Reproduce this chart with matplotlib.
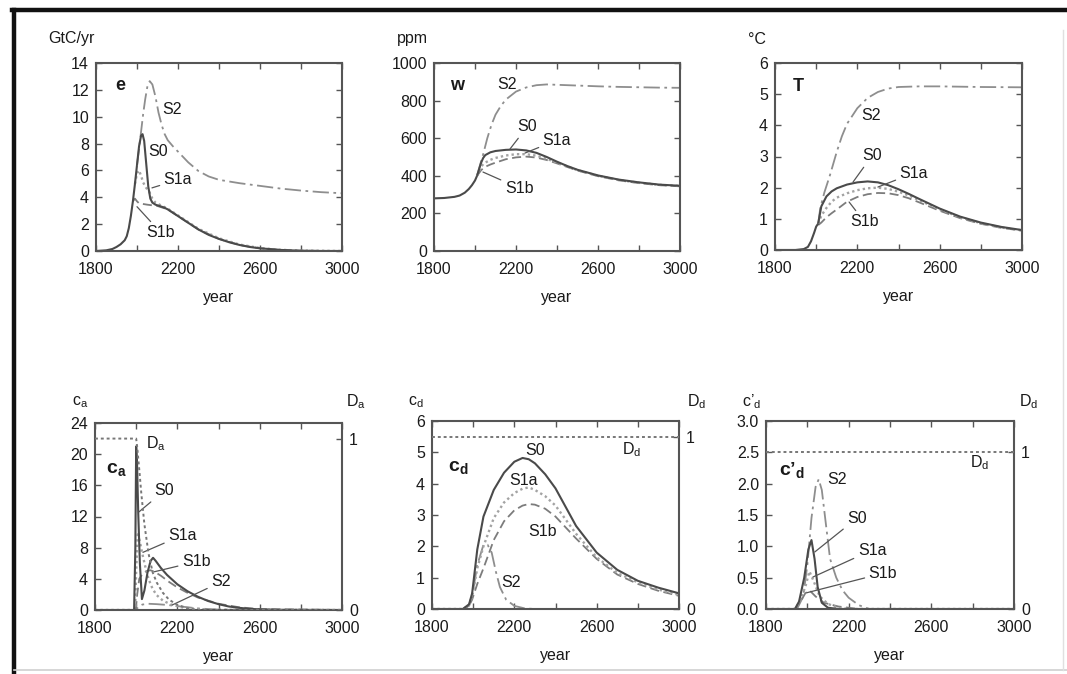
import matplotlib.pyplot as plt
from matplotlib.lines import Line2D

plt.rcParams['font.family'] = ['Liberation Sans', 'DejaVu Sans']
plt.rcParams['mathtext.fontset'] = 'custom'
plt.rcParams['mathtext.rm'] = 'Liberation Sans'
plt.rcParams['mathtext.it'] = 'Liberation Sans'
plt.rcParams['mathtext.bf'] = 'Liberation Sans:bold'

W, H = 1067, 674

# ---- panel e: emissions (GtC/yr)
e_hist_yr = [1800, 1850, 1880, 1900, 1920, 1940, 1950, 1960, 1970, 1980, 1990, 2000]
e_hist = [0, 0.05, 0.15, 0.3, 0.5, 0.8, 1.1, 1.7, 2.6, 3.7, 5.0, 6.4]
e_s0_yr = [2000, 2010, 2020, 2027, 2035, 2045, 2055, 2065, 2075, 2090, 2110, 2130, 2150, 2175, 2200,
           2250, 2300, 2350, 2400, 2450, 2500, 2550, 2600, 2700, 2800, 2900, 3000]
e_s0 = [6.4, 7.8, 8.6, 8.7, 8.2, 6.5, 4.8, 3.9, 3.6, 3.45, 3.35, 3.25, 3.1, 2.85, 2.6,
        2.1, 1.6, 1.2, 0.9, 0.65, 0.45, 0.3, 0.2, 0.08, 0.02, 0, 0]
e_s1a_yr = [1990, 2000, 2010, 2020, 2030, 2045, 2060, 2075, 2090, 2110, 2150, 2200, 2250, 2300,
            2400, 2500, 2600, 2700, 2800, 3000]
e_s1a = [5.0, 5.8, 6.0, 5.6, 5.1, 4.7, 4.4, 3.9, 3.6, 3.45, 3.15, 2.65, 2.15, 1.65,
         0.95, 0.48, 0.22, 0.09, 0.03, 0]
e_s1b_yr = [1980, 1990, 2000, 2010, 2030, 2050, 2075, 2100, 2150, 2200, 2250, 2300, 2400, 2500,
            2600, 2700, 2800, 3000]
e_s1b = [3.7, 3.9, 3.7, 3.55, 3.5, 3.45, 3.4, 3.35, 3.1, 2.6, 2.1, 1.6, 0.9, 0.45,
         0.2, 0.08, 0.02, 0]
e_s2_yr = [2000, 2010, 2020, 2030, 2040, 2050, 2062, 2075, 2090, 2105, 2120, 2135, 2150, 2175, 2200,
           2250, 2300, 2350, 2400, 2500, 2600, 2700, 2800, 2900, 3000]
e_s2 = [6.4, 7.6, 8.9, 10.2, 11.3, 12.2, 12.65, 12.4, 11.5, 10.3, 9.4, 8.7, 8.25, 7.8, 7.4,
        6.6, 5.95, 5.55, 5.3, 5.05, 4.85, 4.65, 4.5, 4.38, 4.3]

# ---- panel w: CO2 (ppm)
w_hist_yr = [1800, 1850, 1900, 1925, 1950, 1970, 1985, 2000, 2010]
w_hist = [280, 282, 288, 295, 310, 330, 350, 375, 400]
w_yr = [2010, 2020, 2030, 2040, 2050, 2075, 2100, 2150, 2200, 2250, 2300, 2350, 2400, 2450, 2500,
        2600, 2700, 2800, 2900, 3000]
w_s0 = [400, 435, 470, 495, 510, 525, 532, 538, 540, 535, 522, 500, 475, 452, 432,
        402, 380, 365, 353, 347]
w_s1a = [400, 425, 448, 462, 470, 485, 495, 508, 515, 515, 507, 490, 470, 450, 430,
         400, 378, 363, 352, 346]
w_s1b = [400, 415, 430, 440, 448, 460, 470, 488, 498, 502, 497, 484, 466, 447, 428,
         398, 376, 361, 350, 344]
w_s2_yr = [2010, 2020, 2040, 2060, 2080, 2100, 2125, 2150, 2200, 2250, 2300, 2350, 2400, 2500,
           2600, 2700, 2800, 2900, 3000]
w_s2 = [400, 440, 515, 600, 670, 725, 770, 805, 848, 870, 882, 886, 884, 880,
        876, 873, 871, 869, 868]

# ---- panel T: temperature (deg C)
t_hist_yr = [1800, 1900, 1940, 1960, 1975, 1990, 2000, 2010]
t_hist = [0, 0, 0.03, 0.1, 0.28, 0.55, 0.75, 0.85]
t_yr = [2010, 2025, 2050, 2075, 2100, 2150, 2200, 2250, 2300, 2350, 2400, 2450, 2500,
        2600, 2700, 2800, 2900, 3000]
t_s0 = [0.85, 1.4, 1.72, 1.88, 1.98, 2.1, 2.17, 2.2, 2.17, 2.08, 1.95, 1.8, 1.64,
        1.33, 1.07, 0.88, 0.74, 0.64]
t_s1a = [0.85, 1.1, 1.35, 1.55, 1.68, 1.82, 1.92, 1.98, 2.0, 1.96, 1.87, 1.75, 1.6,
         1.3, 1.05, 0.86, 0.72, 0.63]
t_s1b = [0.8, 0.88, 1.05, 1.18, 1.3, 1.55, 1.7, 1.79, 1.83, 1.82, 1.76, 1.66, 1.53,
         1.26, 1.02, 0.84, 0.71, 0.62]
t_s2_yr = [2010, 2020, 2040, 2067, 2100, 2125, 2150, 2200, 2250, 2300, 2350, 2400, 2500,
           2600, 2800, 3000]
t_s2 = [0.85, 1.35, 1.85, 2.4, 3.15, 3.65, 4.05, 4.55, 4.88, 5.07, 5.18, 5.23, 5.25,
        5.25, 5.23, 5.22]

# ---- panel ca
ca_s0_yr = [1800, 1990, 1996, 2000, 2004, 2010, 2018, 2028, 2040, 2055, 2070, 2082, 2095, 2120,
            2150, 2200, 2250, 2300, 2350, 2400, 2450, 2500, 2550, 2600, 2700, 3000]
ca_s0 = [0, 0, 8, 21, 19, 12.5, 6, 1.4, 2.5, 4.8, 6.3, 6.7, 6.3, 5.4,
         4.5, 3.3, 2.4, 1.7, 1.15, 0.75, 0.45, 0.28, 0.15, 0.08, 0.02, 0]
ca_s1a_yr = [1800, 1995, 2000, 2008, 2020, 2030, 2045, 2060, 2080, 2100, 2130, 2170, 2220, 2300,
             2400, 3000]
ca_s1a = [0, 0, 5, 10, 8.5, 7.2, 5.5, 4.0, 2.7, 1.9, 1.2, 0.7, 0.35, 0.12, 0.03, 0]
ca_s1b_yr = [1800, 1998, 2005, 2015, 2030, 2050, 2070, 2090, 2120, 2160, 2200, 2250, 2300, 2400,
             2500, 2600, 3000]
ca_s1b = [0, 0, 2, 4, 4.6, 5.0, 5.1, 4.9, 4.4, 3.6, 2.9, 2.2, 1.6, 0.8, 0.35, 0.12, 0]
ca_s2_yr = [1800, 2000, 2010, 2030, 2060, 2100, 2150, 2200, 2250, 2300, 2400, 3000]
ca_s2 = [0, 0, 0.4, 0.7, 0.8, 0.75, 0.65, 0.5, 0.35, 0.2, 0.05, 0]
da_yr = [1800, 2000, 2005, 2015, 2025, 2040, 2060, 2080, 2100, 2130, 2160, 2200, 2250, 2300, 3000]
da = [1, 1, 0.95, 0.82, 0.68, 0.5, 0.33, 0.22, 0.16, 0.1, 0.06, 0.03, 0.01, 0, 0]

# ---- panel cd
cd_yr = [1800, 1950, 1980, 1995, 2020, 2050, 2100, 2150, 2200, 2240, 2270, 2300, 2350, 2400, 2500,
         2600, 2700, 2800, 2900, 3000]
cd_s0 = [0, 0, 0.15, 0.5, 1.9, 2.95, 3.8, 4.35, 4.7, 4.82, 4.78, 4.65, 4.3, 3.85, 2.65,
         1.8, 1.25, 0.9, 0.68, 0.5]
cd_s1a = [0, 0, 0.12, 0.4, 1.3, 2.0, 2.9, 3.4, 3.7, 3.84, 3.88, 3.8, 3.6, 3.3, 2.4,
          1.65, 1.15, 0.85, 0.62, 0.45]
cd_s1b = [0, 0, 0.1, 0.3, 0.8, 1.3, 2.2, 2.8, 3.15, 3.3, 3.35, 3.33, 3.2, 2.95, 2.25,
          1.6, 1.1, 0.8, 0.58, 0.42]
cd_s2_yr = [1800, 1950, 1980, 2000, 2020, 2050, 2070, 2090, 2110, 2130, 2160, 2200, 2250, 2300, 3000]
cd_s2 = [0, 0, 0.1, 0.6, 1.4, 2.05, 2.05, 1.8, 1.2, 0.7, 0.3, 0.1, 0.02, 0, 0]
dd_yr = [1800, 3000]
dd = [1, 1]

# ---- panel c'd
cp_s2_yr = [1800, 1950, 1980, 2000, 2020, 2040, 2055, 2070, 2090, 2110, 2140, 2170, 2200, 2250, 2300, 3000]
cp_s2 = [0, 0, 0.2, 0.7, 1.45, 1.95, 2.07, 1.9, 1.35, 0.8, 0.5, 0.3, 0.18, 0.06, 0, 0]
cp_s0_yr = [1800, 1940, 1960, 1985, 2005, 2020, 2035, 2050, 2070, 2100, 2150, 3000]
cp_s0 = [0, 0, 0.12, 0.5, 0.95, 1.1, 0.8, 0.35, 0.1, 0.02, 0, 0]
cp_s1a_yr = [1800, 1940, 1960, 1990, 2010, 2030, 2060, 2100, 2150, 2200, 3000]
cp_s1a = [0, 0, 0.1, 0.35, 0.6, 0.45, 0.2, 0.08, 0.02, 0, 0]
cp_s1b_yr = [1800, 1940, 1960, 1990, 2010, 2040, 2080, 2150, 2250, 3000]
cp_s1b = [0, 0, 0.08, 0.25, 0.3, 0.2, 0.1, 0.04, 0, 0]

year_ticks = list(range(1800, 3001, 200))
year_labels = ['1800', '', '2200', '', '2600', '', '3000']

STY = {
    'S0': dict(color='#4a4a4a', lw=1.5, ls='-'),
    'S1a': dict(color='#a3a3a3', lw=1.7, ls=(0, (1, 1.3))),
    'S1b': dict(color='#7c7c7c', lw=1.3, ls=(0, (5, 2.5))),
    'S2': dict(color='#8e8e8e', lw=1.3, ls=(0, (9, 2.5, 1.5, 2.5))),
    'hist': dict(color='#4a4a4a', lw=1.5, ls='-'),
    'D': dict(color='#777777', lw=1.4, ls=(0, (1.5, 1.5))),
}
SPINE = '#555555'
FS = 11.5


def rect(l, t, r, b):
    return [l / W, 1 - b / H, (r - l) / W, (b - t) / H]


def style_axes(ax, ylim, yticks, ylabels=None, right=True):
    ax.set_xlim(1800, 3000)
    ax.set_ylim(*ylim)
    ax.set_xticks(year_ticks)
    ax.set_xticklabels(year_labels)
    ax.set_yticks(yticks)
    if ylabels is not None:
        ax.set_yticklabels(ylabels)
    ax.tick_params(direction='in', top=True, right=right, length=4, width=1,
                   color=SPINE, labelsize=FS, labelcolor='#1a1a1a')
    ax.tick_params(axis='x', pad=8)
    ax.tick_params(axis='y', pad=5)
    for sp in ax.spines.values():
        sp.set_color(SPINE)
        sp.set_linewidth(1.5)
    ax.set_xlabel('year', fontsize=FS, color='#1a1a1a', labelpad=9)


def line(ax, x, y, key):
    ax.plot(x, y, solid_capstyle='butt', **STY[key])


def lab(ax, text, xy, target=None, bold=False, size=FS):
    if target is None:
        ax.text(xy[0], xy[1], text, ha='center', va='center', fontsize=size,
                fontweight='bold' if bold else 'normal', color='#1a1a1a')
    else:
        ax.annotate(text, xy=target, xytext=xy, ha='center', va='center', fontsize=size,
                    color='#1a1a1a',
                    arrowprops=dict(arrowstyle='-', color='#555555', lw=0.9,
                                    shrinkA=1, shrinkB=0))


def twin(ax, top):
    tw = ax.twinx()
    tw.set_ylim(0, top)
    tw.set_yticks([0, 1])
    tw.set_yticklabels(['0', '1'])
    tw.tick_params(direction='in', length=4, width=1, color=SPINE, labelsize=FS,
                   labelcolor='#1a1a1a', pad=5)
    for sp in tw.spines.values():
        sp.set_visible(False)
    return tw


fig = plt.figure(figsize=(W / 100, H / 100), dpi=100)

# panel e
ax = fig.add_axes(rect(96, 63, 342, 251))
style_axes(ax, (0, 14), range(0, 15, 2))
line(ax, e_s2_yr, e_s2, 'S2')
line(ax, e_s1b_yr, e_s1b, 'S1b')
line(ax, e_s1a_yr, e_s1a, 'S1a')
line(ax, e_hist_yr, e_hist, 'hist')
line(ax, e_s0_yr, e_s0, 'S0')
lab(ax, 'e', (1917, 12.3), bold=True, size=13)
lab(ax, 'S2', (2171, 10.5))
lab(ax, 'S0', (2102, 7.4))
lab(ax, 'S1a', (2200, 5.3), target=(2073, 4.7))
lab(ax, 'S1b', (2117, 1.35), target=(2000, 3.3))

# panel w
ax = fig.add_axes(rect(434, 63, 680, 251))
style_axes(ax, (0, 1000), range(0, 1001, 200))
line(ax, w_s2_yr, w_s2, 'S2')
line(ax, w_yr, w_s1b, 'S1b')
line(ax, w_yr, w_s1a, 'S1a')
line(ax, w_hist_yr, w_hist, 'hist')
line(ax, w_yr, w_s0, 'S0')
lab(ax, 'w', (1912, 878), bold=True, size=13)
lab(ax, 'S2', (2156, 888))
lab(ax, 'S0', (2254, 660), target=(2171, 543))
lab(ax, 'S1a', (2400, 590), target=(2244, 521))
lab(ax, 'S1b', (2215, 335), target=(2039, 420))

# panel T
ax = fig.add_axes(rect(775, 63, 1022, 250))
style_axes(ax, (0, 6), range(0, 7))
line(ax, t_s2_yr, t_s2, 'S2')
line(ax, t_yr, t_s1b, 'S1b')
line(ax, t_yr, t_s1a, 'S1a')
line(ax, t_hist_yr, t_hist, 'hist')
line(ax, t_yr, t_s0, 'S0')
lab(ax, 'T', (1912, 5.26), bold=True, size=13)
lab(ax, 'S2', (2266, 4.33))
lab(ax, 'S0', (2271, 3.02), target=(2179, 2.18))
lab(ax, 'S1a', (2475, 2.47), target=(2300, 2.02))
lab(ax, 'S1b', (2235, 0.9), target=(2160, 1.54))

# panel ca
ax = fig.add_axes(rect(95, 423, 342, 610))
style_axes(ax, (0, 24), range(0, 25, 4))
tw = twin(ax, 24 / 22)
line(tw, da_yr, da, 'D')
line(ax, ca_s2_yr, ca_s2, 'S2')
line(ax, ca_s1b_yr, ca_s1b, 'S1b')
line(ax, ca_s1a_yr, ca_s1a, 'S1a')
line(ax, ca_s0_yr, ca_s0, 'S0')
lab(ax, r'$\mathbf{c_a}$', (1906, 18), size=14)
lab(ax, r'$\mathregular{D_a}$', (2097, 21.3))
lab(ax, 'S0', (2136, 15.3), target=(2014, 12.6))
lab(ax, 'S1a', (2225, 9.6), target=(2033, 7.4))
lab(ax, 'S1b', (2292, 6.2), target=(2087, 4.9))
lab(ax, 'S2', (2412, 3.6), target=(2175, 0.64))

# panel cd
ax = fig.add_axes(rect(432, 421, 679, 609))
style_axes(ax, (0, 6), range(0, 7))
tw = twin(ax, 6 / 5.5)
line(tw, dd_yr, dd, 'D')
line(ax, cd_s2_yr, cd_s2, 'S2')
line(ax, cd_yr, cd_s1b, 'S1b')
line(ax, cd_yr, cd_s1a, 'S1a')
line(ax, cd_yr, cd_s0, 'S0')
lab(ax, r'$\mathbf{c_d}$', (1926, 4.5), size=14)
lab(ax, r'$\mathregular{D_d}$', (2772, 5.1))
lab(ax, 'S0', (2300, 5.07))
lab(ax, 'S1a', (2247, 4.09))
lab(ax, 'S1b', (2339, 2.46))
lab(ax, 'S2', (2184, 0.86))

# panel c'd
ax = fig.add_axes(rect(766, 421, 1014, 609))
style_axes(ax, (0, 3), [0, 0.5, 1, 1.5, 2, 2.5, 3],
           ['0.0', '0.5', '1.0', '1.5', '2.0', '2.5', '3.0'])
tw = twin(ax, 3 / 2.5)
line(tw, dd_yr, dd, 'D')
line(ax, cp_s2_yr, cp_s2, 'S2')
line(ax, cp_s1b_yr, cp_s1b, 'S1b')
line(ax, cp_s1a_yr, cp_s1a, 'S1a')
line(ax, cp_s0_yr, cp_s0, 'S0')
lab(ax, r"$\mathbf{c’_d}$", (1926, 2.22), size=14)
lab(ax, r'$\mathregular{D_d}$', (2835, 2.33))
lab(ax, 'S2', (2143, 2.06))
lab(ax, 'S0', (2240, 1.45), target=(2036, 0.91))
lab(ax, 'S1a', (2313, 0.94), target=(2027, 0.51))
lab(ax, 'S1b', (2366, 0.57), target=(1998, 0.26))

# unit labels above the axes
units = [('GtC/yr', 48, 39), ('ppm', 397, 39), ('°C', 748, 39),
         (r'$\mathregular{c_a}$', 72, 402), (r'$\mathregular{D_a}$', 346, 402),
         (r'$\mathregular{c_d}$', 408, 402), (r'$\mathregular{D_d}$', 687, 402),
         (r"$\mathregular{c’_d}$", 742, 402), (r'$\mathregular{D_d}$', 1019, 402)]
for txt, x, y in units:
    fig.text(x / W, 1 - y / H, txt, ha='left', va='center', fontsize=FS, color='#1a1a1a')

# scanned page frame
fig.add_artist(Line2D([12 / W, 1], [1 - 10 / H, 1 - 10 / H], color='#111111', lw=3.2))
fig.add_artist(Line2D([14 / W, 14 / W], [0, 1 - 10 / H], color='#111111', lw=3.2))
fig.add_artist(Line2D([14 / W, 1], [1 - 670 / H, 1 - 670 / H], color='#d0d0d0', lw=1.2))
fig.add_artist(Line2D([1063 / W, 1063 / W], [1 - 670 / H, 1 - 30 / H], color='#e0e0e0', lw=1.0))

fig.savefig('out.png', dpi=100)
